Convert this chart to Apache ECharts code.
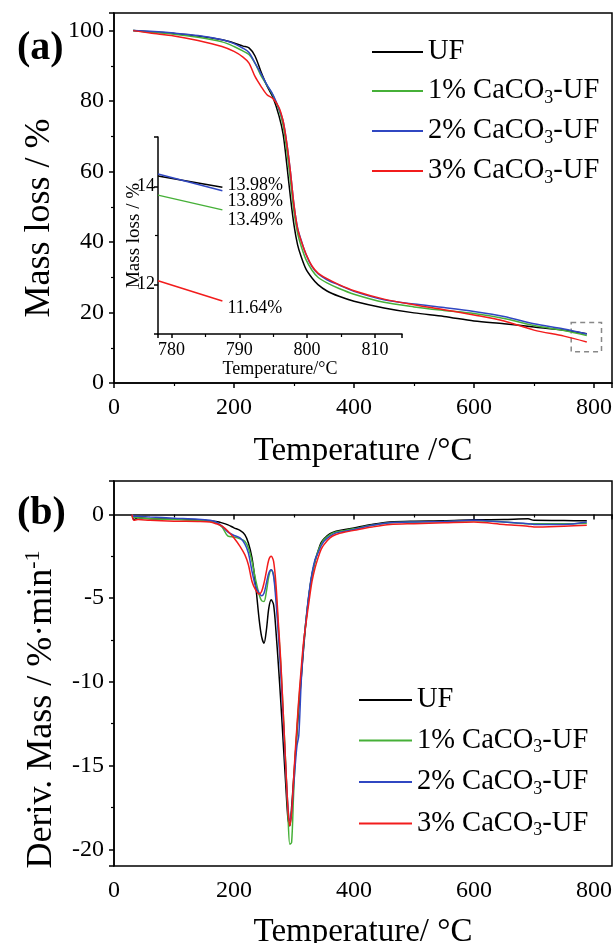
<!DOCTYPE html>
<html>
<head>
<meta charset="utf-8">
<title>TGA / DTG</title>
<script src="https://cdn.jsdelivr.net/npm/echarts@6/dist/echarts.min.js"></script>
<style>
    html, body { margin: 0; padding: 0; background: #fff; }
    #chart { width: 614px; height: 943px; }
</style>
</head>
<body>
<div id="chart"></div>
<script>
// 图例名称
var names = ['UF', '1% CaCO3-UF', '2% CaCO3-UF', '3% CaCO3-UF'];
var colors = ['#000000', '#46b038', '#3047c2', '#f21c1c'];

// (a) TGA 曲线
var tgaTemp = [32, 60, 100, 140, 180, 200, 215, 225, 235, 245, 255, 265, 275, 282, 288, 294, 300, 306, 312, 320, 330, 340, 355, 375, 400, 450, 500, 550, 600, 650, 700, 750, 788];
var tgaUF = [100, 99.7, 99.2, 98.5, 97.4, 96.5, 95.6, 95.1, 92.8, 88.3, 84.3, 81, 75.8, 70.5, 62, 52.8, 44.8, 39.2, 35.8, 32.3, 29.8, 27.9, 26.1, 24.6, 23.2, 21.3, 19.9, 18.9, 17.6, 16.8, 15.9, 15.0, 13.98];
var tga1 = [100, 99.6, 99.0, 98.1, 96.8, 95.5, 94.2, 93.2, 90.8, 87.2, 84.5, 81.6, 77.5, 73, 66, 57.5, 48.5, 42.5, 38.8, 35, 32, 30, 28.4, 26.8, 25.2, 22.9, 21.6, 20.6, 19.7, 18.3, 16.3, 14.9, 13.49];
var tga2 = [100, 99.8, 99.3, 98.6, 97.4, 96.3, 95, 93.8, 90.8, 87.8, 84.6, 81.8, 77.8, 74.2, 68, 60, 50.5, 44, 40.5, 36.5, 33, 31, 29.3, 27.8, 26.0, 23.6, 22.4, 21.4, 20.3, 18.9, 16.8, 15.3, 13.89];
var tga3 = [100, 99.3, 98.5, 97.2, 95.5, 94.1, 92.5, 90.8, 87, 84.2, 81.8, 80.7, 78.2, 74.2, 68, 60, 50.5, 43.8, 40.3, 36.6, 33.2, 31.2, 29.6, 27.9, 26.2, 23.8, 22.2, 20.8, 19.3, 17.6, 15.0, 13.3, 11.64];

// 放大区域 (虚线框): x1, x2, y1, y2
var zoomBox = [762, 812.5, 8.9, 17.2];

// 插图
var insetTemp = [778, 787.5];
var insetUF = [14.21, 13.98];
var inset1 = [13.82, 13.52];
var inset2 = [14.25, 13.91];
var inset3 = [12.08, 11.67];
var insetLabels = ['13.98%', '13.49%', '13.89%', '11.64%'];

// (b) DTG 曲线
var dtgTemp = [30, 33, 40, 60, 100, 140, 160, 170, 180, 190, 200, 210, 218, 224, 230, 236, 242, 246, 250, 254, 258, 262, 266, 270, 274, 278, 282, 286, 290, 293, 296, 299, 302, 305, 308, 312, 316, 320, 325, 330, 335, 340, 345, 350, 360, 370, 385, 400, 430, 460, 500, 550, 600, 650, 690, 700, 750, 788];
var dtgUF = [0, -0.3, -0.2, -0.25, -0.28, -0.32, -0.38, -0.42, -0.5, -0.62, -0.8, -0.95, -1.2, -1.7, -2.6, -4.2, -6.3, -7.3, -7.7, -6.9, -5.6, -5.1, -5.4, -7.0, -9.0, -11.2, -13.6, -16.0, -18.2, -18.6, -17.5, -16.0, -14.5, -13.0, -11.5, -9.8, -8.0, -6.4, -4.8, -3.6, -2.8, -2.2, -1.7, -1.45, -1.15, -1.0, -0.9, -0.8, -0.6, -0.45, -0.4, -0.38, -0.32, -0.3, -0.26, -0.35, -0.36, -0.38];
var dtg1 = [0, -0.15, -0.2, -0.25, -0.3, -0.35, -0.4, -0.5, -0.75, -1.3, -1.35, -1.45, -1.6, -2.0, -2.8, -3.9, -4.8, -5.15, -5.2, -4.6, -3.7, -3.3, -3.6, -4.8, -6.8, -9.0, -11.8, -14.8, -18.0, -19.7, -19.6, -17.0, -14.6, -12.8, -11.2, -9.5, -7.8, -6.3, -4.8, -3.6, -2.8, -2.2, -1.8, -1.5, -1.2, -1.05, -0.95, -0.85, -0.65, -0.5, -0.45, -0.42, -0.38, -0.45, -0.55, -0.55, -0.55, -0.52];
var dtg2 = [0, -0.1, -0.1, -0.15, -0.22, -0.28, -0.35, -0.45, -0.7, -1.05, -1.25, -1.4, -1.75, -2.3, -3.4, -4.3, -4.7, -4.85, -4.7, -4.1, -3.5, -3.3, -3.7, -5.2, -7.2, -9.5, -12.2, -15.0, -17.5, -18.3, -17.8, -16.4, -15.0, -13.8, -13.2, -10.0, -7.8, -6.3, -4.7, -3.5, -2.7, -2.3, -1.9, -1.6, -1.3, -1.1, -1.0, -0.9, -0.65, -0.5, -0.45, -0.42, -0.35, -0.45, -0.55, -0.6, -0.6, -0.45];
var dtg3 = [0, -0.35, -0.3, -0.35, -0.4, -0.42, -0.45, -0.55, -0.7, -1.0, -1.4, -1.9, -2.4, -3.0, -4.0, -4.5, -4.75, -4.6, -4.1, -3.4, -2.7, -2.5, -2.8, -4.2, -6.5, -8.8, -11.8, -14.8, -17.6, -18.6, -17.8, -16.0, -14.2, -12.6, -11.0, -9.2, -7.6, -6.5, -5.2, -4.0, -3.2, -2.6, -2.1, -1.8, -1.4, -1.2, -1.05, -0.95, -0.75, -0.6, -0.55, -0.5, -0.45, -0.6, -0.7, -0.75, -0.7, -0.65];

var serif = "'Liberation Serif', 'Times New Roman', serif";

function pairs(xs, ys) {
    var out = [];
    for (var i = 0; i < xs.length; i++) {
        out.push([xs[i], ys[i]]);
    }
    return out;
}

// 坐标轴公共样式
function baseAxis(gridIndex, fontSize) {
    return {
        type: 'value',
        gridIndex: gridIndex,
        axisLine: { show: true, lineStyle: { color: '#000', width: 1.5 } },
        axisTick: { show: true, inside: false, length: 5, lineStyle: { color: '#000', width: 1.5 } },
        minorTick: { show: true, splitNumber: 2, length: 3, lineStyle: { color: '#000', width: 1.2 } },
        splitLine: { show: false },
        axisLabel: { color: '#000', fontFamily: serif, fontSize: fontSize, showMaxLabel: false },
        nameTextStyle: { color: '#000', fontFamily: serif }
    };
}

var legendRich = {
    sub: { fontSize: 18, fontFamily: serif, color: '#000', padding: [14, 0, 0, 0] }
};
function legendFmt(n) {
    return n.replace('CaCO3', 'CaCO{sub|3}');
}

var series = [];
var tgaData = [tgaUF, tga1, tga2, tga3];
var dtgData = [dtgUF, dtg1, dtg2, dtg3];
var insetData = [insetUF, inset1, inset2, inset3];
var labelOffset = [[0, -2], [0, 10], [0, 11], [0, 7]];

for (var i = 0; i < 4; i++) {
    var s = {
        name: names[i], type: 'line', xAxisIndex: 0, yAxisIndex: 0,
        data: pairs(tgaTemp, tgaData[i]), showSymbol: false, smooth: 0.3,
        lineStyle: { color: colors[i], width: 1.5 }, itemStyle: { color: colors[i] }, z: 3
    };
    if (i == 0) {
        s.markArea = {
            silent: true,
            itemStyle: { color: 'rgba(0,0,0,0)', borderColor: '#888', borderWidth: 1.5, borderType: [5, 4] },
            data: [[{ coord: [zoomBox[0], zoomBox[3]] }, { coord: [zoomBox[1], zoomBox[2]] }]]
        };
    }
    series.push(s);
}
for (var i = 0; i < 4; i++) {
    series.push({
        name: names[i], type: 'line', xAxisIndex: 1, yAxisIndex: 1,
        data: pairs(dtgTemp, dtgData[i]), showSymbol: false, smooth: 0.3,
        lineStyle: { color: colors[i], width: 1.5 }, itemStyle: { color: colors[i] }
    });
}
// 插图里的线和数值
for (var i = 0; i < 4; i++) {
    series.push({
        name: names[i], type: 'line', xAxisIndex: 2, yAxisIndex: 2,
        data: pairs(insetTemp, insetData[i]), showSymbol: false,
        lineStyle: { color: colors[i], width: 1.5 }, itemStyle: { color: colors[i] }, z: 4,
        endLabel: {
            show: true, distance: 5, offset: labelOffset[i],
            formatter: insetLabels[i], color: '#000', fontFamily: serif, fontSize: 18
        }
    });
}

var x0 = baseAxis(0, 24);
x0.min = 0; x0.max = 830; x0.interval = 200;
x0.axisLabel.margin = 13;
x0.name = 'Temperature /°C'; x0.nameLocation = 'middle'; x0.nameGap = 52;
x0.nameTextStyle.fontSize = 33;

var y0 = baseAxis(0, 24);
y0.min = 0; y0.max = 105; y0.interval = 20;
y0.axisLabel.margin = 10;
y0.name = 'Mass loss / %'; y0.nameLocation = 'middle'; y0.nameGap = 53;
y0.nameTextStyle.fontSize = 36;
y0.nameTextStyle.padding = [0, 40, 0, 0];

var x1 = baseAxis(1, 24);
x1.min = 0; x1.max = 830; x1.interval = 200;
x1.axisLabel.margin = 13;
x1.name = 'Temperature/ °C'; x1.nameLocation = 'middle'; x1.nameGap = 50;
x1.nameTextStyle.fontSize = 33;

var y1 = baseAxis(1, 24);
y1.min = -21; y1.max = 2; y1.splitNumber = 5;
y1.axisLabel.margin = 10; y1.axisLabel.showMinLabel = false;
y1.name = 'Deriv. Mass / %·min{sup|-1}'; y1.nameLocation = 'middle'; y1.nameGap = 52;
y1.nameTextStyle.fontSize = 36;
y1.nameTextStyle.padding = [0, 72, 0, 0];
y1.nameTextStyle.rich = { sup: { fontSize: 22, fontFamily: serif, color: '#000', padding: [0, 0, 18, 0] } };

var x2 = baseAxis(2, 18);
x2.min = 778; x2.max = 814; x2.splitNumber = 4;
x2.axisTick.length = 4; x2.minorTick.length = 3;
x2.axisLabel.margin = 7; x2.axisLabel.showMinLabel = false;
x2.name = 'Temperature/°C'; x2.nameLocation = 'middle'; x2.nameGap = 25;
x2.nameTextStyle.fontSize = 18;

var y2 = baseAxis(2, 18);
y2.min = 11; y2.max = 15; y2.splitNumber = 2;
y2.axisTick.length = 4;
y2.axisLabel.margin = 3; y2.axisLabel.showMinLabel = false;
y2.name = 'Mass loss / %'; y2.nameLocation = 'middle'; y2.nameGap = 14;
y2.nameMoveOverlap = false;
y2.nameTextStyle.fontSize = 19;

var chart = echarts.init(document.getElementById('chart'), null, { renderer: 'canvas' });
var option = {
    animation: false,
    backgroundColor: '#fff',
    title: [
        { text: '(a)', left: 12, top: 24, textStyle: { fontFamily: serif, fontSize: 40, fontWeight: 'bold', color: '#000' } },
        { text: '(b)', left: 12, top: 489, textStyle: { fontFamily: serif, fontSize: 40, fontWeight: 'bold', color: '#000' } }
    ],
    grid: [
        { left: 114, top: 13, width: 498, height: 370, show: true, borderColor: '#000', borderWidth: 1.5, backgroundColor: 'transparent', outerBoundsMode: 'none' },
        { left: 114, top: 481, width: 498, height: 385, show: true, borderColor: '#000', borderWidth: 1.5, backgroundColor: 'transparent', outerBoundsMode: 'none' },
        { left: 158, top: 137, width: 244, height: 197, outerBoundsMode: 'none' }
    ],
    legend: [
        {
            data: names, orient: 'vertical', left: 372, top: 37, padding: 0, itemGap: 9,
            icon: 'rect', itemWidth: 51, itemHeight: 2,
            textStyle: { fontFamily: serif, fontSize: 28.5, color: '#000', lineHeight: 30, rich: legendRich },
            formatter: legendFmt
        },
        {
            data: names, orient: 'vertical', left: 359, top: 685, padding: 0, itemGap: 10.5,
            icon: 'rect', itemWidth: 53, itemHeight: 2,
            textStyle: { fontFamily: serif, fontSize: 28.5, color: '#000', lineHeight: 30, rich: legendRich },
            formatter: legendFmt
        }
    ],
    xAxis: [x0, x1, x2],
    yAxis: [y0, y1, y2],
    series: series
};
chart.setOption(option);
</script>
</body>
</html>
